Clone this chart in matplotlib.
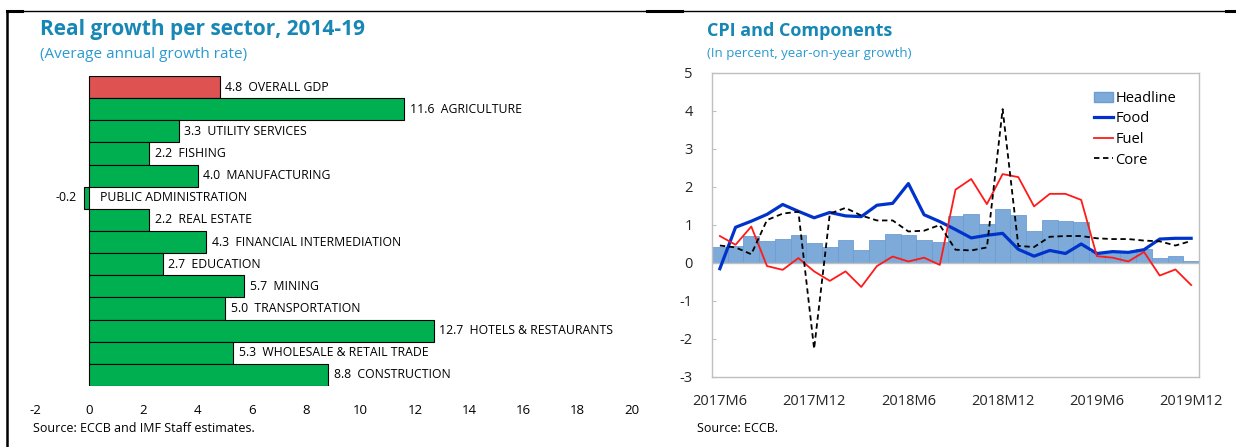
import numpy as np
import pandas as pd
import matplotlib
matplotlib.use('Agg')
import matplotlib.pyplot as plt
from matplotlib.lines import Line2D
from matplotlib.patches import Patch

plt.rcParams['font.family'] = ['Open Sans', 'DejaVu Sans']
plt.rcParams['axes.unicode_minus'] = False

# 左图：各部门实际增长
sectors = ['OVERALL GDP', 'AGRICULTURE', 'UTILITY SERVICES', 'FISHING', 'MANUFACTURING',
           'PUBLIC ADMINISTRATION', 'REAL ESTATE', 'FINANCIAL INTERMEDIATION', 'EDUCATION',
           'MINING', 'TRANSPORTATION', 'HOTELS & RESTAURANTS', 'WHOLESALE & RETAIL TRADE',
           'CONSTRUCTION']
growth = [4.8, 11.6, 3.3, 2.2, 4.0, -0.2, 2.2, 4.3, 2.7, 5.7, 5.0, 12.7, 5.3, 8.8]

# 右图：CPI 及其组成
months = [str(p).replace('-0', 'M').replace('-', 'M') for p in pd.period_range('2017-06', '2019-12', freq='M')]
headline = [0.42, 0.45, 0.70, 0.58, 0.63, 0.74, 0.52, 0.43, 0.60, 0.34, 0.60, 0.76, 0.73, 0.60, 0.56,
            1.23, 1.28, 1.02, 1.41, 1.25, 0.84, 1.13, 1.10, 1.08, 0.29, 0.31, 0.31, 0.36, 0.14, 0.19, 0.06]
food = [-0.15, 0.94, 1.10, 1.28, 1.54, 1.36, 1.19, 1.33, 1.24, 1.22, 1.52, 1.57, 2.09, 1.27, 1.09,
        0.88, 0.66, 0.73, 0.78, 0.36, 0.18, 0.33, 0.25, 0.50, 0.25, 0.30, 0.28, 0.35, 0.63, 0.65, 0.65]
fuel = [0.71, 0.48, 0.96, -0.08, -0.18, 0.13, -0.22, -0.47, -0.22, -0.63, -0.08, 0.17, 0.04, 0.14, -0.05,
        1.93, 2.21, 1.55, 2.34, 2.26, 1.49, 1.82, 1.82, 1.66, 0.18, 0.14, 0.04, 0.29, -0.33, -0.17, -0.58]
core = [0.46, 0.41, 0.23, 1.13, 1.30, 1.35, -2.26, 1.30, 1.45, 1.25, 1.12, 1.12, 0.83, 0.85, 1.00,
        0.35, 0.33, 0.41, 4.05, 0.45, 0.42, 0.69, 0.71, 0.71, 0.65, 0.63, 0.63, 0.59, 0.57, 0.46, 0.58]
tick_labels = ['2017M6', '2017M12', '2018M6', '2018M12', '2019M6', '2019M12']

title_col = '#1787B5'
sub_col = '#2B9AD0'

fig = plt.figure(figsize=(12.36, 4.47), dpi=100)

# ---------- 左图 ----------
ax1 = fig.add_axes([35/1236, 1-386/447, (632-35)/1236, 310/447])
y = np.arange(len(sectors))
colors = ['#DE5252'] + ['#00B050'] * (len(sectors) - 1)
ax1.barh(y, growth, height=1.0, color=colors, edgecolor='black', linewidth=0.8)
ax1.set_ylim(len(sectors) - 0.5, -0.5)
ax1.set_xlim(-2, 20)
ax1.set_xticks(range(-2, 21, 2))
ax1.set_yticks([])
for s in ax1.spines.values():
    s.set_visible(False)
ax1.tick_params(axis='x', length=0, pad=13, labelsize=9.5)
for i, (v, name) in enumerate(zip(growth, sectors)):
    if v >= 0:
        ax1.annotate(f'{v:.1f}  {name}', (v, i), xytext=(4, 0), textcoords='offset points',
                     va='center', ha='left', fontsize=8.8)
    else:
        ax1.annotate(f'{v:.1f}', (v, i), xytext=(-5, 0), textcoords='offset points',
                     va='center', ha='right', fontsize=8.8)
        ax1.annotate(name, (0, i), xytext=(8, 0), textcoords='offset points',
                     va='center', ha='left', fontsize=8.8)

fig.text(40/1236, 1-30/447, 'Real growth per sector, 2014-19', color=title_col,
         fontsize=15, fontweight='bold', va='center', ha='left')
fig.text(40/1236, 1-55/447, '(Average annual growth rate)', color=sub_col,
         fontsize=11, va='center', ha='left')
fig.text(33/1236, 1-429/447, 'Source: ECCB and IMF Staff estimates.', fontsize=9,
         va='center', ha='left')

# ---------- 右图 ----------
ax2 = fig.add_axes([712/1236, 1-377/447, 487/1236, 304/447])
x = np.arange(len(months))
ax2.bar(x, headline, width=1.0, color='#7DAAD8', edgecolor='#6C9ED2', linewidth=0.6, label='Headline')
ax2.plot(x, food, color='#0033CC', linewidth=2.3, label='Food')
ax2.plot(x, fuel, color='#FF1A1A', linewidth=1.3, label='Fuel')
ax2.plot(x, core, color='black', linewidth=1.3, linestyle=(0, (3, 2)), label='Core')
ax2.set_xlim(-0.5, len(months) - 0.5)
ax2.set_ylim(-3, 5)
ax2.set_yticks(range(-3, 6))
ax2.set_xticks([months.index(m) for m in tick_labels])
ax2.set_xticklabels(tick_labels)
for s in ax2.spines.values():
    s.set_color('#BFBFBF')
    s.set_linewidth(1.0)
ax2.tick_params(axis='x', length=0, pad=12, labelsize=10.5, colors='#262626')
ax2.tick_params(axis='y', length=3, direction='in', pad=14, labelsize=10.5,
                color='#BFBFBF', labelcolor='#262626')
# 零线及其刻度
ax2.axhline(0, color='#BFBFBF', linewidth=1.0, zorder=1.5)
sec = ax2.secondary_xaxis(3/8)
sec.set_xticks(np.arange(-0.5, len(months), 1.0))
sec.tick_params(length=3, direction='in', color='#C8C8C8', labelbottom=False)
sec.spines['bottom'].set_visible(False)

handles = [Patch(facecolor='#7DAAD8', edgecolor='#6C9ED2'),
           Line2D([], [], color='#0033CC', linewidth=2.3),
           Line2D([], [], color='#FF1A1A', linewidth=1.3),
           Line2D([], [], color='black', linewidth=1.3, linestyle=(0, (3, 2)))]
ax2.legend(handles, ['Headline', 'Food', 'Fuel', 'Core'], loc='upper left',
           bbox_to_anchor=(0.77, 0.965), frameon=False, fontsize=10.5,
           handlelength=1.3, handletextpad=0.15, labelspacing=0.38, borderpad=0)

fig.text(707/1236, 1-31/447, 'CPI and Components', color=title_col,
         fontsize=13, fontweight='bold', va='center', ha='left')
fig.text(707/1236, 1-54/447, '(In percent, year-on-year growth)', color=sub_col,
         fontsize=9.5, va='center', ha='left')
fig.text(697/1236, 1-428/447, 'Source: ECCB.', fontsize=9, va='center', ha='left')

# ---------- 外框线 ----------
fig.add_artist(Line2D([7/1236, 1], [1-11/447, 1-11/447], color='black', linewidth=1.0))
fig.add_artist(Line2D([7/1236, 7/1236], [0, 1-11/447], color='black', linewidth=1.8))
for x0, x1 in [(7, 22), (647, 682), (1226, 1236)]:
    fig.add_artist(Line2D([x0/1236, x1/1236], [1-11/447, 1-11/447], color='black', linewidth=2.2))

fig.savefig('out.png', dpi=100)
